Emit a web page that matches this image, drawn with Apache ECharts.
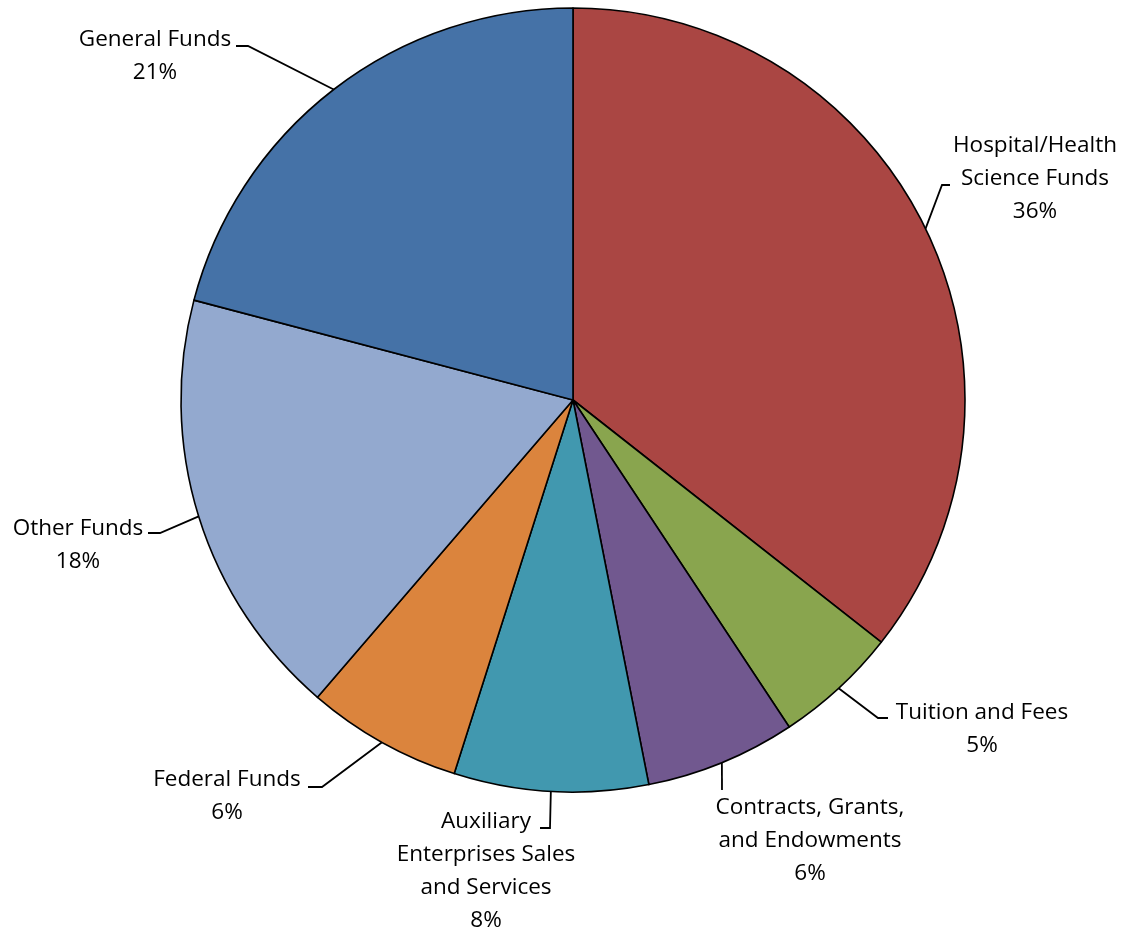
<!DOCTYPE html>
<html>
<head>
<meta charset="utf-8">
<script src="https://cdn.jsdelivr.net/npm/echarts@6/dist/echarts.min.js"></script>
<style>
  html, body { margin: 0; padding: 0; background: #ffffff; }
  #chart { width: 1127px; height: 930px; }
</style>
</head>
<body>
<div id="chart"></div>
<script>
// Fund sources, clockwise from 12 o'clock
const categories = [
  'Hospital/Health\nScience Funds',
  'Tuition and Fees',
  'Contracts, Grants,\nand Endowments',
  'Auxiliary\nEnterprises Sales\nand Services',
  'Federal Funds',
  'Other Funds',
  'General Funds'
];
const shares = [35.6, 5.1, 6.2, 8.0, 6.4, 17.8, 20.9];
const sliceColors = ['#AA4643', '#89A54E', '#71588F', '#4198AF', '#DB843D', '#93A9CF', '#4572A7'];

// Label placement: label centre, then the leader-line bend and the point where it meets the text
const labelCentres = [[1035, 179], [982, 729], [810, 841], [486, 871], [227, 796], [78, 545], [155, 56]];
const leaderBends  = [[942, 185], [878, 718], [722, 790], [550, 828], [322, 787], [160, 533], [248, 46]];
const leaderEnds   = [[950, 185], [888, 718], [722, 790], [540, 828], [308, 787], [148, 533], [236, 46]];

const chart = echarts.init(document.getElementById('chart'), null, { renderer: 'canvas' });

chart.setOption({
  backgroundColor: '#ffffff',
  animation: false,
  series: [{
    type: 'pie',
    center: [573, 400],
    radius: 392,
    startAngle: 90,
    clockwise: true,
    percentPrecision: 0,
    avoidLabelOverlap: false,
    data: categories.map((name, i) => ({
      name: name,
      value: shares[i],
      itemStyle: { color: sliceColors[i] }
    })),
    itemStyle: { borderColor: '#000000', borderWidth: 1.6 },
    label: {
      show: true,
      position: 'outside',
      formatter: '{b}\n{d}%',
      fontFamily: '"Open Sans", Lato, sans-serif',
      fontSize: 22.5,
      lineHeight: 33,
      color: '#000000',
      align: 'center'
    },
    labelLine: {
      show: true,
      length: 10,
      length2: 10,
      lineStyle: { color: '#000000', width: 1.8 }
    },
    labelLayout: function (params) {
      const i = params.dataIndex;
      const anchor = params.labelLinePoints ? params.labelLinePoints[0] : leaderBends[i];
      return {
        x: labelCentres[i][0],
        y: labelCentres[i][1],
        align: 'center',
        verticalAlign: 'middle',
        labelLinePoints: [anchor, leaderBends[i], leaderEnds[i]]
      };
    },
    emphasis: { disabled: true }
  }]
});
</script>
</body>
</html>
